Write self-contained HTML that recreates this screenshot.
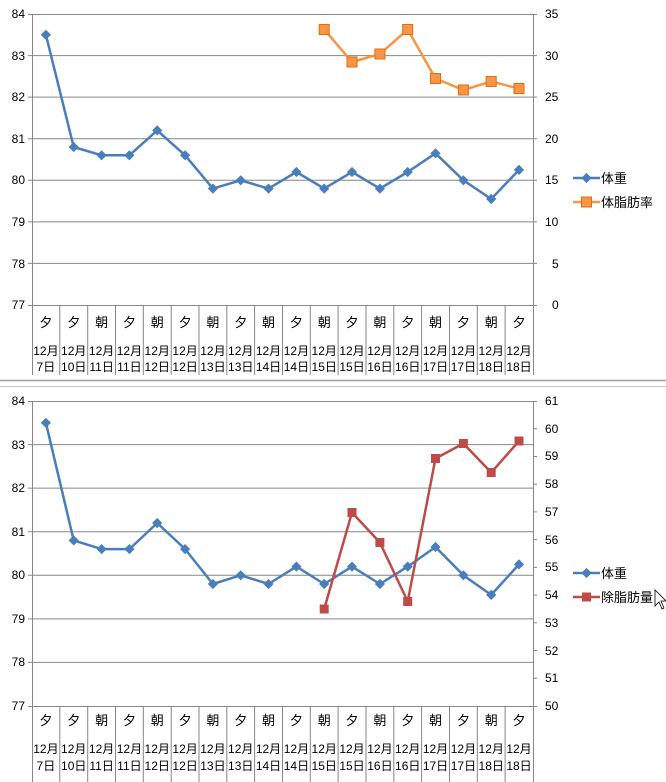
<!DOCTYPE html>
<html><head><meta charset="utf-8"><style>
html,body{margin:0;padding:0;background:#fff;}
svg{display:block;font-family:"Liberation Sans","Noto Sans CJK JP",sans-serif;}
</style></head><body>
<svg width="666" height="782" viewBox="0 0 666 782" xmlns="http://www.w3.org/2000/svg">
<defs>
<g id="dia"><rect x="-3.6" y="-3.6" width="7.2" height="7.2" transform="rotate(45)" fill="#4a7ebb"/></g>
<g id="sqo"><rect x="-5" y="-5" width="10" height="10" fill="#f79646" stroke="#e46c0a" stroke-width="1"/></g>
<g id="sqr"><rect x="-4.5" y="-4.5" width="9" height="9" fill="#be4b48"/></g>
</defs>
<!-- ===== TOP CHART ===== -->
<g stroke="#868686" stroke-width="1" fill="none">
<path d="M32 14.5H533M32 55.6H533M32 97.1H533M32 138.7H533M32 180.3H533M32 221.9H533M32 263.4H533"/>
<path d="M28 305.5H537M28 14.5H32M28 55.6H32M28 97.1H32M28 138.7H32M28 180.3H32M28 221.9H32M28 263.4H32"/>
<path d="M533 14.5H537M533 55.6H537M533 97.1H537M533 138.7H537M533 180.3H537M533 221.9H537M533 263.4H537"/>
<path d="M32.5 14V375M533.5 14V375M59.8 305V375M87.7 305V375M115.5 305V375M143.3 305V375M171.2 305V375M199 305V375M226.8 305V375M254.6 305V375M282.5 305V375M310.3 305V375M338.1 305V375M366 305V375M393.8 305V375M421.6 305V375M449.5 305V375M477.3 305V375M505.1 305V375"/>
</g>
<g font-size="12" fill="#000" text-anchor="end">
<text x="25" y="18">84</text><text x="25" y="60">83</text><text x="25" y="101">82</text><text x="25" y="143">81</text><text x="25" y="184">80</text><text x="25" y="226">79</text><text x="25" y="268">78</text><text x="25" y="309">77</text>
</g>
<g font-size="12" fill="#000" text-anchor="start">
<text x="545" y="18">35</text><text x="545" y="60">30</text><text x="545" y="101">25</text><text x="545" y="143">20</text><text x="545" y="184">15</text><text x="545" y="226">10</text><text x="552" y="268">5</text><text x="552" y="309">0</text>
</g>
<g font-size="13" fill="#000" text-anchor="middle">
<text x="45.9" y="327">夕</text><text x="73.7" y="327">夕</text><text x="101.6" y="327">朝</text><text x="129.4" y="327">夕</text><text x="157.2" y="327">朝</text><text x="185.1" y="327">夕</text><text x="212.9" y="327">朝</text><text x="240.7" y="327">夕</text><text x="268.5" y="327">朝</text><text x="296.4" y="327">夕</text><text x="324.2" y="327">朝</text><text x="352" y="327">夕</text><text x="379.9" y="327">朝</text><text x="407.7" y="327">夕</text><text x="435.5" y="327">朝</text><text x="463.4" y="327">夕</text><text x="491.2" y="327">朝</text><text x="519" y="327">夕</text>
</g>
<g font-size="12" fill="#000" text-anchor="middle">
<text x="45.9" y="355">12月</text><text x="73.7" y="355">12月</text><text x="101.6" y="355">12月</text><text x="129.4" y="355">12月</text><text x="157.2" y="355">12月</text><text x="185.1" y="355">12月</text><text x="212.9" y="355">12月</text><text x="240.7" y="355">12月</text><text x="268.5" y="355">12月</text><text x="296.4" y="355">12月</text><text x="324.2" y="355">12月</text><text x="352" y="355">12月</text><text x="379.9" y="355">12月</text><text x="407.7" y="355">12月</text><text x="435.5" y="355">12月</text><text x="463.4" y="355">12月</text><text x="491.2" y="355">12月</text><text x="519" y="355">12月</text>
<text x="45.9" y="371">7日</text><text x="73.7" y="371">10日</text><text x="101.6" y="371">11日</text><text x="129.4" y="371">11日</text><text x="157.2" y="371">12日</text><text x="185.1" y="371">12日</text><text x="212.9" y="371">13日</text><text x="240.7" y="371">13日</text><text x="268.5" y="371">14日</text><text x="296.4" y="371">14日</text><text x="324.2" y="371">15日</text><text x="352" y="371">15日</text><text x="379.9" y="371">16日</text><text x="407.7" y="371">16日</text><text x="435.5" y="371">17日</text><text x="463.4" y="371">17日</text><text x="491.2" y="371">18日</text><text x="519" y="371">18日</text>
</g>
<polyline fill="none" stroke="#4a7ebb" stroke-width="2.5" stroke-linejoin="round" points="45.9,34.8 73.7,147 101.6,155.3 129.4,155.3 157.2,130.4 185.1,155.3 212.9,188.6 240.7,180.3 268.5,188.6 296.4,172 324.2,188.6 352,172 379.9,188.6 407.7,172 435.5,153.3 463.4,180.3 491.2,199 519,169.9"/>
<g><use href="#dia" x="45.9" y="34.8"/><use href="#dia" x="73.7" y="147"/><use href="#dia" x="101.6" y="155.3"/><use href="#dia" x="129.4" y="155.3"/><use href="#dia" x="157.2" y="130.4"/><use href="#dia" x="185.1" y="155.3"/><use href="#dia" x="212.9" y="188.6"/><use href="#dia" x="240.7" y="180.3"/><use href="#dia" x="268.5" y="188.6"/><use href="#dia" x="296.4" y="172"/><use href="#dia" x="324.2" y="188.6"/><use href="#dia" x="352" y="172"/><use href="#dia" x="379.9" y="188.6"/><use href="#dia" x="407.7" y="172"/><use href="#dia" x="435.5" y="153.3"/><use href="#dia" x="463.4" y="180.3"/><use href="#dia" x="491.2" y="199"/><use href="#dia" x="519" y="169.9"/></g>
<polyline fill="none" stroke="#f79646" stroke-width="2.5" stroke-linejoin="round" points="324.2,29.5 352,62 379.9,54 407.7,29.5 435.5,78.5 463.4,90 491.2,81.5 519,88.5"/>
<g><use href="#sqo" x="324.2" y="29.5"/><use href="#sqo" x="352" y="62"/><use href="#sqo" x="379.9" y="54"/><use href="#sqo" x="407.7" y="29.5"/><use href="#sqo" x="435.5" y="78.5"/><use href="#sqo" x="463.4" y="90"/><use href="#sqo" x="491.2" y="81.5"/><use href="#sqo" x="519" y="88.5"/></g>
<!-- legend top -->
<line x1="573" y1="178" x2="600" y2="178" stroke="#4a7ebb" stroke-width="2.5"/><use href="#dia" x="586.5" y="178"/>
<text x="601" y="183" font-size="13">体重</text>
<line x1="573" y1="202" x2="600" y2="202" stroke="#f79646" stroke-width="2.5"/><use href="#sqo" x="586.5" y="202"/>
<text x="601" y="207" font-size="13">体脂肪率</text>
<!-- divider -->
<line x1="0" y1="380.5" x2="666" y2="380.5" stroke="#a0a0a0" stroke-width="1.5"/>
<line x1="0" y1="386.5" x2="666" y2="386.5" stroke="#c8c8c8" stroke-width="1"/>
<!-- ===== BOTTOM CHART ===== -->
<g stroke="#868686" stroke-width="1" fill="none">
<path d="M32 401.5H533M32 444.6H533M32 488.1H533M32 531.7H533M32 575.3H533M32 618.9H533M32 662.4H533"/>
<path d="M28 706.5H537M28 401.5H32M28 444.6H32M28 488.1H32M28 531.7H32M28 575.3H32M28 618.9H32M28 662.4H32"/>
<path d="M533 401.5H537M533 428.7H537M533 456.5H537M533 484.2H537M533 511.9H537M533 539.6H537M533 567.4H537M533 595.1H537M533 622.8H537M533 650.5H537M533 678.3H537"/>
<path d="M32.5 401V782M533.5 401V782M59.8 706V782M87.7 706V782M115.5 706V782M143.3 706V782M171.2 706V782M199 706V782M226.8 706V782M254.6 706V782M282.5 706V782M310.3 706V782M338.1 706V782M366 706V782M393.8 706V782M421.6 706V782M449.5 706V782M477.3 706V782M505.1 706V782"/>
</g>
<g font-size="12" fill="#000" text-anchor="end">
<text x="25" y="405">84</text><text x="25" y="449">83</text><text x="25" y="492">82</text><text x="25" y="536">81</text><text x="25" y="579">80</text><text x="25" y="623">79</text><text x="25" y="666">78</text><text x="25" y="710">77</text>
</g>
<g font-size="12" fill="#000" text-anchor="start">
<text x="545" y="405">61</text><text x="545" y="433">60</text><text x="545" y="460">59</text><text x="545" y="488">58</text><text x="545" y="516">57</text><text x="545" y="544">56</text><text x="545" y="571">55</text><text x="545" y="599">54</text><text x="545" y="627">53</text><text x="545" y="655">52</text><text x="545" y="682">51</text><text x="545" y="710">50</text>
</g>
<g font-size="13" fill="#000" text-anchor="middle">
<text x="45.9" y="725">夕</text><text x="73.7" y="725">夕</text><text x="101.6" y="725">朝</text><text x="129.4" y="725">夕</text><text x="157.2" y="725">朝</text><text x="185.1" y="725">夕</text><text x="212.9" y="725">朝</text><text x="240.7" y="725">夕</text><text x="268.5" y="725">朝</text><text x="296.4" y="725">夕</text><text x="324.2" y="725">朝</text><text x="352" y="725">夕</text><text x="379.9" y="725">朝</text><text x="407.7" y="725">夕</text><text x="435.5" y="725">朝</text><text x="463.4" y="725">夕</text><text x="491.2" y="725">朝</text><text x="519" y="725">夕</text>
</g>
<g font-size="12" fill="#000" text-anchor="middle">
<text x="45.9" y="753">12月</text><text x="73.7" y="753">12月</text><text x="101.6" y="753">12月</text><text x="129.4" y="753">12月</text><text x="157.2" y="753">12月</text><text x="185.1" y="753">12月</text><text x="212.9" y="753">12月</text><text x="240.7" y="753">12月</text><text x="268.5" y="753">12月</text><text x="296.4" y="753">12月</text><text x="324.2" y="753">12月</text><text x="352" y="753">12月</text><text x="379.9" y="753">12月</text><text x="407.7" y="753">12月</text><text x="435.5" y="753">12月</text><text x="463.4" y="753">12月</text><text x="491.2" y="753">12月</text><text x="519" y="753">12月</text>
<text x="45.9" y="770">7日</text><text x="73.7" y="770">10日</text><text x="101.6" y="770">11日</text><text x="129.4" y="770">11日</text><text x="157.2" y="770">12日</text><text x="185.1" y="770">12日</text><text x="212.9" y="770">13日</text><text x="240.7" y="770">13日</text><text x="268.5" y="770">14日</text><text x="296.4" y="770">14日</text><text x="324.2" y="770">15日</text><text x="352" y="770">15日</text><text x="379.9" y="770">16日</text><text x="407.7" y="770">16日</text><text x="435.5" y="770">17日</text><text x="463.4" y="770">17日</text><text x="491.2" y="770">18日</text><text x="519" y="770">18日</text>
</g>
<polyline fill="none" stroke="#4a7ebb" stroke-width="2.5" stroke-linejoin="round" points="45.9,422.8 73.7,540.4 101.6,549.1 129.4,549.1 157.2,523 185.1,549.1 212.9,584 240.7,575.3 268.5,584 296.4,566.6 324.2,584 352,566.6 379.9,584 407.7,566.6 435.5,547 463.4,575.3 491.2,594.9 519,564.4"/>
<g><use href="#dia" x="45.9" y="422.8"/><use href="#dia" x="73.7" y="540.4"/><use href="#dia" x="101.6" y="549.1"/><use href="#dia" x="129.4" y="549.1"/><use href="#dia" x="157.2" y="523"/><use href="#dia" x="185.1" y="549.1"/><use href="#dia" x="212.9" y="584"/><use href="#dia" x="240.7" y="575.3"/><use href="#dia" x="268.5" y="584"/><use href="#dia" x="296.4" y="566.6"/><use href="#dia" x="324.2" y="584"/><use href="#dia" x="352" y="566.6"/><use href="#dia" x="379.9" y="584"/><use href="#dia" x="407.7" y="566.6"/><use href="#dia" x="435.5" y="547"/><use href="#dia" x="463.4" y="575.3"/><use href="#dia" x="491.2" y="594.9"/><use href="#dia" x="519" y="564.4"/></g>
<polyline fill="none" stroke="#be4b48" stroke-width="2.5" stroke-linejoin="round" points="324.2,609 352,512.5 379.9,542.5 407.7,601.5 435.5,458.5 463.4,443.5 491.2,472.5 519,441"/>
<g><use href="#sqr" x="324.2" y="609"/><use href="#sqr" x="352" y="512.5"/><use href="#sqr" x="379.9" y="542.5"/><use href="#sqr" x="407.7" y="601.5"/><use href="#sqr" x="435.5" y="458.5"/><use href="#sqr" x="463.4" y="443.5"/><use href="#sqr" x="491.2" y="472.5"/><use href="#sqr" x="519" y="441"/></g>
<!-- legend bottom -->
<line x1="573" y1="573" x2="600" y2="573" stroke="#4a7ebb" stroke-width="2.5"/><use href="#dia" x="586.5" y="573"/>
<text x="601" y="578" font-size="13">体重</text>
<line x1="573" y1="597" x2="600" y2="597" stroke="#be4b48" stroke-width="2.5"/><use href="#sqr" x="586.5" y="597"/>
<text x="601" y="602" font-size="13">除脂肪量</text>
<path d="M655 590 L655 606 L659 602 L662 609 L664 608 L661 601 L666 601 Z" fill="#fff" stroke="#000" stroke-width="0.8"/>
</svg>
</body></html>
